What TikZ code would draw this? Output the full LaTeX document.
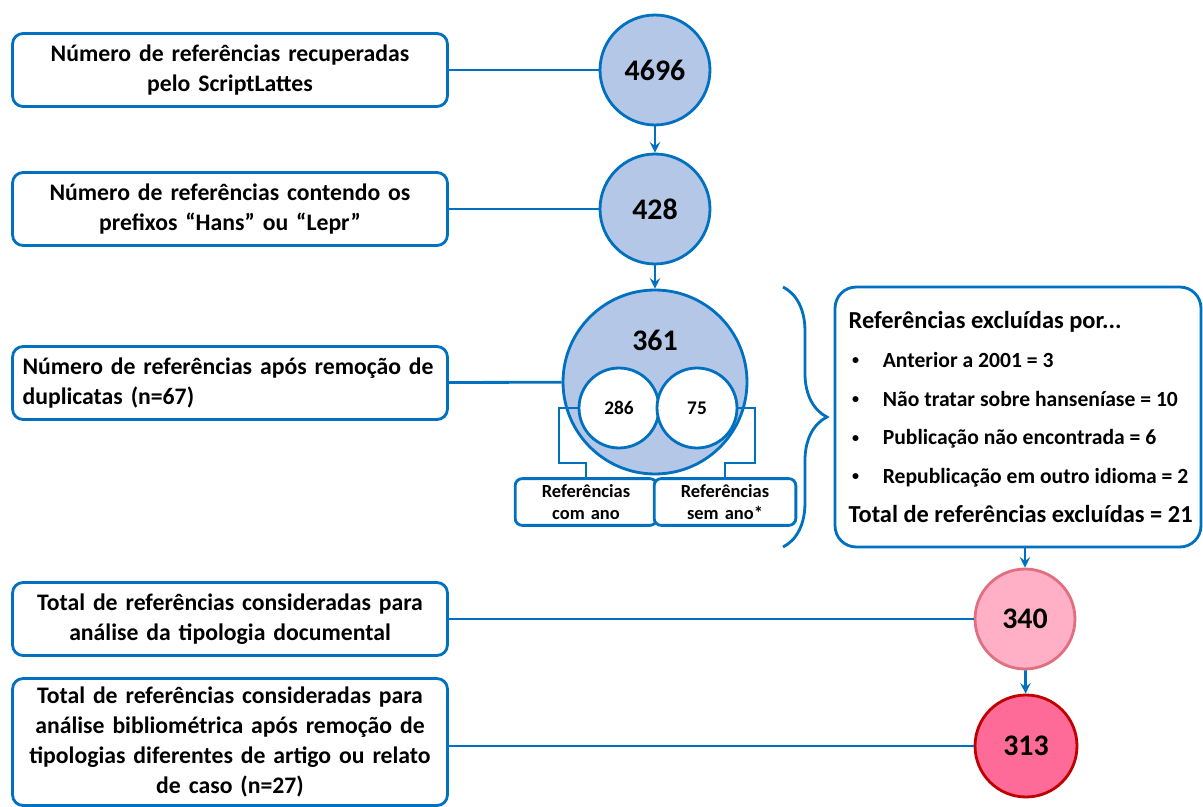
\documentclass[tikz,border=0pt]{standalone}
\usepackage{fontspec}
\setmainfont{Carlito}
\usetikzlibrary{decorations.pathreplacing}
\definecolor{azul}{HTML}{0070C0}
\definecolor{azulclaro}{HTML}{B4C7E7}
\definecolor{rosaclaro}{HTML}{FFB0C6}
\definecolor{rosaborda}{HTML}{E0707F}
\definecolor{rosaforte}{HTML}{FF6B98}
\definecolor{vermelho}{HTML}{C00000}
\newcommand{\marca}{\makebox[19.5pt][l]{\hspace*{2pt}\raisebox{1.5pt}{\fontsize{8}{8}\selectfont •}}}
\begin{document}
\begin{tikzpicture}[>=stealth, x=0.02cm, y=-0.02cm,
	caixa/.style={draw=azul, line width=1.6pt, rounded corners=6pt, fill=white, minimum width=8.7cm, minimum height=1.46cm, text width=8.3cm, align=center, font=\bfseries\fontsize{13.5}{17}\selectfont},
	bola/.style={circle, draw=azul, line width=1.6pt, fill=azulclaro, minimum size=2.2cm, inner sep=0pt, font=\bfseries\fontsize{17}{20}\selectfont},
	linha/.style={draw=azul, line width=1.6pt},
	seta/.style={linha, ->}]
	\useasboundingbox (0,0) rectangle (1203,807);
	% as caixas da esquerda
	\node[caixa] (B1) at (230,70) {Número de referências recuperadas\\pelo ScriptLattes};
	\node[caixa] (B2) at (230,209) {Número de referências contendo os\\prefixos “Hans” ou “Lepr”};
	\node[caixa, align=left] (B3) at (230,383) {Número de referências após remoção de\\duplicatas (n=67)};
	\node[caixa] (B4) at (230,619) {Total de referências consideradas para\\análise da tipologia documental};
	\node[caixa, minimum height=2.54cm] (B5) at (230,742) {Total de referências consideradas para\\análise bibliométrica após remoção de\\tipologias diferentes de artigo ou relato\\de caso (n=27)};
	% os circulos
	\node[bola] (C1) at (655,70) {4696};
	\node[bola] (C2) at (655,209) {428};
	\node[bola, minimum size=3.68cm] (C3) at (655,382) {};
	\node[font=\bfseries\fontsize{17}{20}\selectfont] (N3) at (655,340) {361};
	\node[bola, fill=rosaclaro, draw=rosaborda, minimum size=2cm] (C4) at (1025,619) {340};
	\node[bola, fill=rosaforte, draw=vermelho, minimum size=2.04cm] (C5) at (1026,746) {313};
	% com ano / sem ano
	\node[caixa, minimum width=2.74cm, minimum height=0.9cm, text width=2.6cm, rounded corners=4pt, font=\bfseries\fontsize{10.5}{12.5}\selectfont] (R1) at (586,502) {Referências\\com ano};
	\node[caixa, minimum width=2.72cm, minimum height=0.9cm, text width=2.6cm, rounded corners=4pt, font=\bfseries\fontsize{10.5}{12.5}\selectfont] (R2) at (725,502) {Referências\\sem ano*};
	\draw[linha] (600,408) -- ++(-41,0) -- ++(0,55) -| (R1.north);
	\draw[linha] (700,408) -- ++(55,0) -- ++(0,55) -| (R2.north);
	\node[bola, fill=white, minimum size=1.6cm, font=\bfseries\fontsize{11}{13}\selectfont] (S1) at (619,408) {286};
	\node[bola, fill=white, minimum size=1.6cm, font=\bfseries\fontsize{11}{13}\selectfont] (S2) at (697,408) {75};
	% exclusoes
	\draw[linha, decorate, decoration={brace, amplitude=25pt}] (783,287) -- (783,547);
	\node[caixa, minimum width=7.32cm, minimum height=5.2cm, text width=, align=left, rounded corners=12pt, font=\bfseries\fontsize{13.9}{22}\selectfont] (EX) at (1018,417) {\hspace*{3pt}Referências excluídas por...\\
		{\fontsize{12.3}{22}\selectfont\hspace*{3pt}\marca Anterior a 2001 = 3}\\
		{\fontsize{12.3}{22}\selectfont\hspace*{3pt}\marca Não tratar sobre hanseníase = 10}\\
		{\fontsize{12.3}{22}\selectfont\hspace*{3pt}\marca Publicação não encontrada = 6}\\
		{\fontsize{12.3}{22}\selectfont\hspace*{3pt}\marca Republicação em outro idioma = 2}\\
		\hspace*{3pt}Total de referências excluídas = 21};
	% ligacoes
	\draw[linha] (B1) -- (C1);
	\draw[linha] (B2) -- (C2);
	\draw[linha] (B3) -- (C3);
	\draw[linha] (B4) -- (C4);
	\draw[linha] (C5.west -| B5.east) -- (C5.west);
	\draw[seta] (C1) -- (C2);
	\draw[seta] (C2) -- (C3);
	\draw[seta] (C4 |- EX.south) -- (C4);
	\draw[seta] (C4) -- (C5);
\end{tikzpicture}
\end{document}
